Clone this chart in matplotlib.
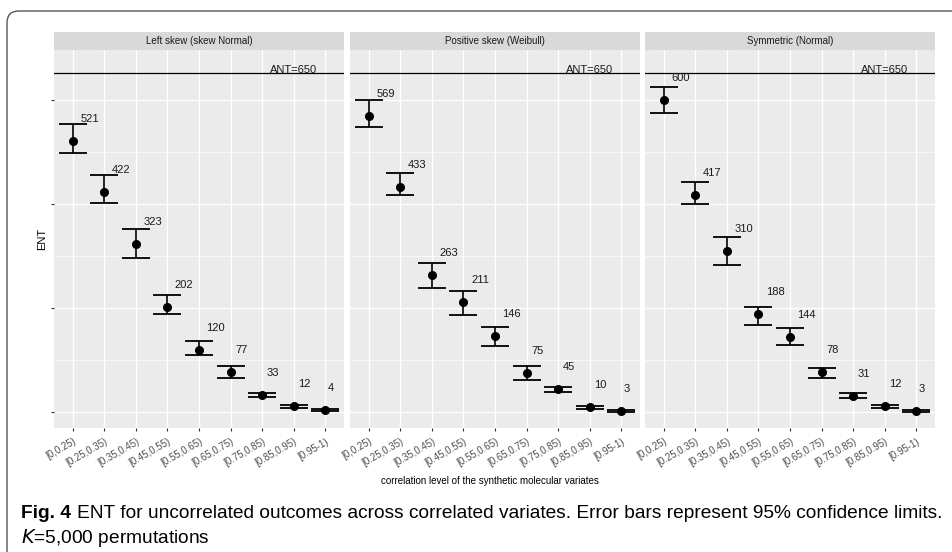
import numpy as np
import matplotlib.pyplot as plt
from matplotlib.patches import FancyBboxPatch

plt.rcParams['font.family'] = ['Liberation Sans', 'DejaVu Sans']

categories = ["[0,0.25)", "[0.25,0.35)", "[0.35,0.45)", "[0.45,0.55)", "[0.55,0.65)",
              "[0.65,0.75)", "[0.75,0.85)", "[0.85,0.95)", "[0.95-1)"]
panel_titles = ["Left skew (skew Normal)", "Positive skew (Weibull)", "Symmetric (Normal)"]

left_est = [521, 422, 323, 202, 120, 77, 33, 12, 4]
left_lo = [498, 402, 296, 189, 110, 66, 29, 9, 2]
left_hi = [553, 455, 351, 226, 136, 88, 38, 15, 6]

weib_est = [569, 433, 263, 211, 146, 75, 45, 10, 3]
weib_lo = [547, 417, 239, 186, 128, 62, 40, 7, 1]
weib_hi = [600, 459, 287, 232, 163, 89, 49, 13, 5]

norm_est = [600, 417, 310, 188, 144, 78, 31, 12, 3]
norm_lo = [574, 399, 283, 167, 129, 66, 27, 9, 1]
norm_hi = [624, 441, 336, 202, 161, 86, 37, 15, 5]

ant = 650

panels = [(left_est, left_lo, left_hi), (weib_est, weib_lo, weib_hi), (norm_est, norm_lo, norm_hi)]

W, H = 953, 552
fig = plt.figure(figsize=(W / 100, H / 100), dpi=100)

# open frame with rounded top-left corner
frame = FancyBboxPatch((7 / 100, -1), 20, (H - 11) / 100 + 1,
                       boxstyle="round,pad=0,rounding_size=0.12",
                       transform=fig.dpi_scale_trans, fill=False,
                       edgecolor="#555555", linewidth=1.0)
fig.patches.append(frame)

panel_left = [54, 350, 645]
panel_w = 290
top_px, bot_px = 50, 428
strip_h = 18

x = np.arange(1, len(categories) + 1)

for i, (est, lo, hi) in enumerate(panels):
    ax = fig.add_axes([panel_left[i] / W, 1 - bot_px / H, panel_w / W, (bot_px - top_px) / H])
    ax.set_facecolor("#ebebeb")
    for s in ax.spines.values():
        s.set_visible(False)
    ax.set_xlim(0.4, 9.6)
    ax.set_ylim(-30, 695)

    ax.set_yticks([0, 200, 400, 600])
    ax.set_yticks([100, 300, 500], minor=True)
    ax.set_xticks(x)
    ax.grid(True, which="major", color="white", linewidth=1.0)
    ax.grid(True, which="minor", axis="y", color="white", linewidth=0.5)
    ax.set_axisbelow(True)
    ax.tick_params(which="minor", length=0)
    ax.tick_params(axis="both", which="major", length=2.5, color="#333333", width=0.8)
    ax.set_yticklabels([])
    if i > 0:
        ax.tick_params(axis="y", which="major", length=0)
    ax.set_xticklabels(categories, rotation=30, ha="right", rotation_mode="anchor",
                       fontsize=7, color="#4d4d4d")

    ax.axhline(ant, color="black", linewidth=0.9)
    ax.text(8, ant + 1, "ANT=650", ha="center", va="baseline", fontsize=8, color="#1a1a1a")

    est_a = np.array(est)
    ax.errorbar(x, est_a, yerr=[est_a - np.array(lo), np.array(hi) - est_a],
                fmt="o", color="black", markersize=5.5, elinewidth=1.2,
                capsize=10, capthick=1.3)
    for xi, v in zip(x, est):
        n = len(str(v))
        ax.annotate(str(v), (xi, v + 42), xytext=(0.9 * n * 4.45, 0),
                    textcoords="offset points", ha="center", va="center",
                    fontsize=8, color="#1a1a1a")

    # facet strip
    sax = fig.add_axes([panel_left[i] / W, 1 - top_px / H, panel_w / W, strip_h / H])
    sax.set_facecolor("#d9d9d9")
    sax.set_xticks([])
    sax.set_yticks([])
    for s in sax.spines.values():
        s.set_visible(False)
    sax.text(0.5, 0.5, panel_titles[i], ha="center", va="center", fontsize=7,
             color="#1a1a1a", transform=sax.transAxes)

fig.text(42 / W, 1 - 239 / H, "ENT", rotation=90, ha="center", va="center", fontsize=8)
fig.text(490 / W, 1 - 481 / H, "correlation level of the synthetic molecular variates",
         ha="center", va="center", fontsize=7)

# caption: shrink the font until the first line fits the width used in the figure
caption = "ENT for uncorrelated outcomes across correlated variates. Error bars represent 95% confidence limits."
renderer = fig.canvas.get_renderer()
size = 12.5
t_bold = fig.text(21 / W, 1 - 514 / H, "Fig. 4", ha="left", va="center",
                  fontsize=size, fontweight="bold")
t_cap = fig.text(0, 1 - 514 / H, caption, ha="left", va="center", fontsize=size)
for _ in range(6):
    wb = t_bold.get_window_extent(renderer).width
    wc = t_cap.get_window_extent(renderer).width
    total = wb + 6 + wc
    size = size * (935 - 21) / total
    t_bold.set_fontsize(size)
    t_cap.set_fontsize(size)
wb = t_bold.get_window_extent(renderer).width
t_cap.set_x((21 + wb + 6) / W)
fig.text(21 / W, 1 - 538 / H, r"$K$=5,000 permutations", ha="left", va="center",
         fontsize=size)

fig.savefig("out.png", dpi=100)
